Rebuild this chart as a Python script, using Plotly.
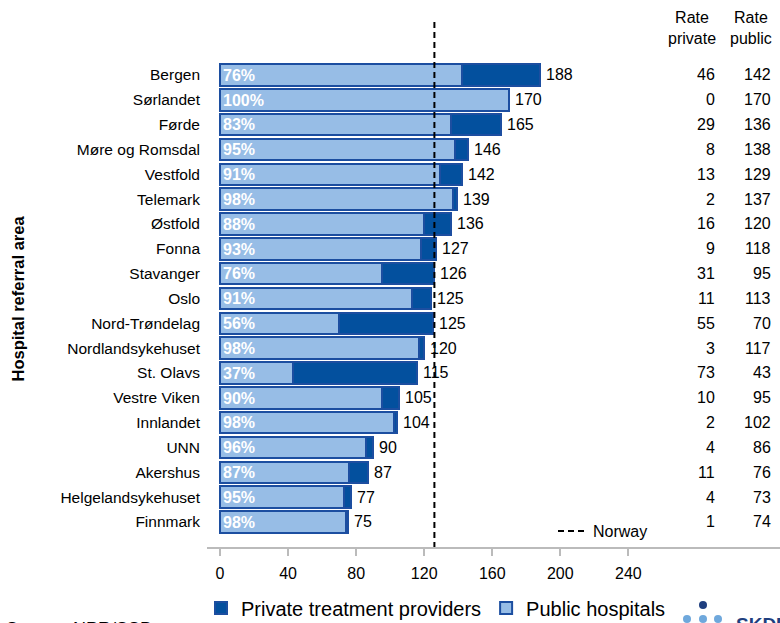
import plotly.graph_objects as go

areas = ["Bergen", "Sørlandet", "Førde", "Møre og Romsdal", "Vestfold", "Telemark",
         "Østfold", "Fonna", "Stavanger", "Oslo", "Nord-Trøndelag", "Nordlandsykehuset",
         "St. Olavs", "Vestre Viken", "Innlandet", "UNN", "Akershus",
         "Helgelandsykehuset", "Finnmark"]
rate_private = [46, 0, 29, 8, 13, 2, 16, 9, 31, 11, 55, 3, 73, 10, 2, 4, 11, 4, 1]
rate_public = [142, 170, 136, 138, 129, 137, 120, 118, 95, 113, 70, 117, 43, 95, 102, 86, 76, 73, 74]
rate_total = [188, 170, 165, 146, 142, 139, 136, 127, 126, 125, 125, 120, 115, 105, 104, 90, 87, 77, 75]
pct_public = ["76%", "100%", "83%", "95%", "91%", "98%", "88%", "93%", "76%", "91%",
              "56%", "98%", "37%", "90%", "98%", "96%", "87%", "95%", "98%"]
norway_rate = 126
x_ticks = [0, 40, 80, 120, 160, 200, 240]

FONT = "Arial, Liberation Sans, sans-serif"
DARK = "#03509E"
LIGHT = "#97BDE6"
EDGE = "#1C4EA0"

W, H = 780, 623
L, R, T, B = 207, 0, 22, 76
pw, ph = W - L - R, H - T - B

def px_x(p):
    return (p - L) / pw

def px_y(p):
    return (H - B - p) / ph

pos = list(range(len(areas)))
y_top, y_bot = -2.134, 19.007
x_range = [-7.64, 329.1]

fig = go.Figure()
fig.add_trace(go.Bar(
    y=pos, x=rate_public, orientation="h", name="Public hospitals",
    marker=dict(color=LIGHT, line=dict(color=EDGE, width=2)),
    width=0.86, text=pct_public, textposition="inside", insidetextanchor="start",
    textfont=dict(color="white", size=16, family=FONT, weight="bold"),
    constraintext="none", hoverinfo="skip", legend="legend"))
fig.add_trace(go.Bar(
    y=pos, x=rate_private, orientation="h", name="Private treatment providers",
    marker=dict(color=DARK, line=dict(color=EDGE, width=2)),
    width=0.86, hoverinfo="skip", legend="legend"))
fig.add_trace(go.Scatter(
    x=[norway_rate, norway_rate], y=[y_top, y_bot], mode="lines", name="Norway",
    line=dict(color="black", width=2, dash="6px,4px"), hoverinfo="skip",
    legend="legend2", cliponaxis=False))

ann = []
for i in pos:
    ann.append(dict(x=rate_public[i] + rate_private[i], y=i, xref="x", yref="y",
                    text=str(rate_total[i]), showarrow=False, xanchor="left", xshift=4,
                    font=dict(size=16, color="black", family=FONT)))
    ann.append(dict(x=(717 - 220) / 1.7014, y=i, xref="x", yref="y",
                    text=str(rate_private[i]), showarrow=False, xanchor="right",
                    font=dict(size=16, color="black", family=FONT)))
    ann.append(dict(x=(773 - 220) / 1.7014, y=i, xref="x", yref="y",
                    text=str(rate_public[i]), showarrow=False, xanchor="right",
                    font=dict(size=16, color="black", family=FONT)))

ann.append(dict(x=(692 - 220) / 1.7014, y=px_y(28), xref="x", yref="paper",
                text="Rate<br>private", showarrow=False, xanchor="center", yanchor="middle",
                font=dict(size=16, color="black", family=FONT)))
ann.append(dict(x=(751 - 220) / 1.7014, y=px_y(28), xref="x", yref="paper",
                text="Rate<br>public", showarrow=False, xanchor="center", yanchor="middle",
                font=dict(size=16, color="black", family=FONT)))
ann.append(dict(x=px_x(18), y=9, xref="paper", yref="y", text="<b>Hospital referral area</b>",
                textangle=-90, showarrow=False, xanchor="center", yanchor="middle",
                font=dict(size=16.5, color="black", family=FONT)))
ann.append(dict(x=px_x(4), y=px_y(617), xref="paper", yref="paper", text="Source: NPR/SSB",
                showarrow=False, xanchor="left", yanchor="top",
                font=dict(size=18, color="black", family=FONT)))
ann.append(dict(x=px_x(734), y=px_y(612), xref="paper", yref="paper", text="<b>SKDF</b>",
                showarrow=False, xanchor="left", yanchor="top",
                font=dict(size=19, color="#1F3F7F", family=FONT)))

shapes = []
for (cx, cy, col) in [(703, 605, "#1F3F7F"), (687, 619, "#6FA8DC"),
                      (703, 619, "#6FA8DC"), (718, 619, "#6FA8DC")]:
    shapes.append(dict(type="circle", xref="paper", yref="paper",
                       x0=px_x(cx - 4), x1=px_x(cx + 4), y0=px_y(cy + 4), y1=px_y(cy - 4),
                       fillcolor=col, line=dict(width=0)))

fig.update_layout(
    width=W, height=H, margin=dict(l=L, r=R, t=T, b=B, autoexpand=False),
    paper_bgcolor="white", plot_bgcolor="white",
    barmode="stack", bargap=0,
    font=dict(family=FONT, color="black", size=16),
    xaxis=dict(range=x_range, tickvals=x_ticks, ticktext=[str(v) for v in x_ticks],
               showgrid=False, zeroline=False, showline=True, linecolor="#BBBBBB",
               linewidth=2, ticks="outside", ticklen=7, tickwidth=2, tickcolor="#BBBBBB",
               tickfont=dict(size=16, family=FONT, color="black"), ticklabelstandoff=4),
    yaxis=dict(range=[y_bot, y_top], tickvals=pos, ticktext=areas, showgrid=False,
               zeroline=False, showline=False, ticks="",
               tickfont=dict(size=15.5, family=FONT, color="black"), ticklabelstandoff=6),
    legend=dict(orientation="h", x=px_x(201), y=px_y(608), xanchor="left", yanchor="middle",
                traceorder="reversed", font=dict(size=20, family=FONT, color="black"),
                bgcolor="rgba(0,0,0,0)", itemwidth=30),
    legend2=dict(orientation="h", x=px_x(553), y=px_y(531), xanchor="left", yanchor="middle",
                 font=dict(size=16, family=FONT, color="black"), bgcolor="rgba(0,0,0,0)"),
    annotations=ann, shapes=shapes, showlegend=True,
)

fig.write_html("out.html", config={"displayModeBar": False},
               post_script="document.body.style.margin='0';")
